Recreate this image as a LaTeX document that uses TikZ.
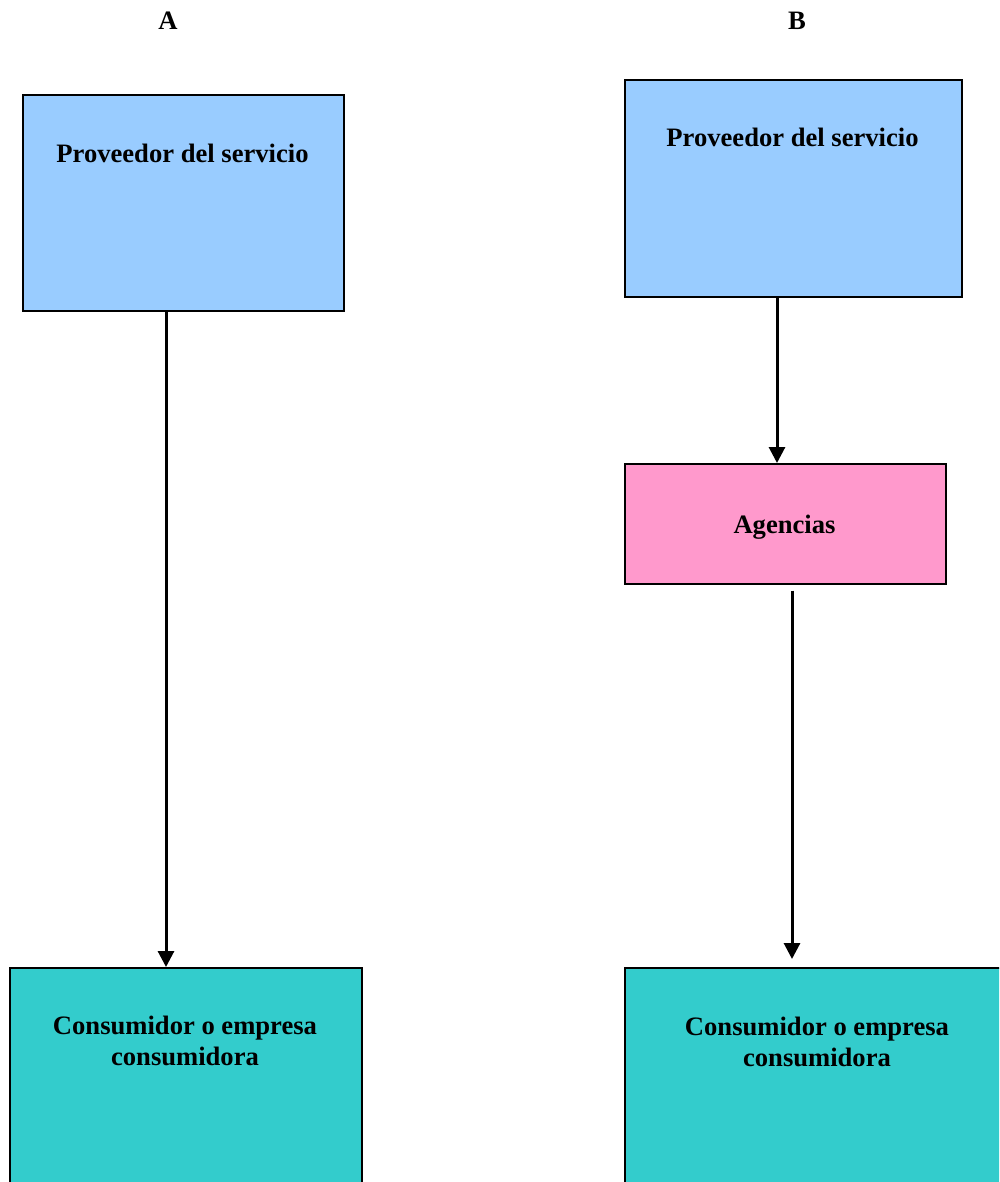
\documentclass[tikz,border=0pt]{standalone}
\usepackage{fontspec}
\setmainfont{Liberation Serif}
\usetikzlibrary{arrows.meta}
\definecolor{provblue}{HTML}{99CCFF}
\definecolor{consteal}{HTML}{33CCCC}
\definecolor{agpink}{HTML}{FF99CC}
\begin{document}
\begin{tikzpicture}[x=1pt,y=-1pt,
  box/.style={draw=black,line width=1.6pt,rectangle,inner sep=0pt,anchor=north west},
  lbl/.style={font=\fontsize{26.6}{31}\selectfont\bfseries,inner sep=0pt,align=center,anchor=base},
  arr/.style={line width=3pt,-{Triangle[length=16pt,width=16pt]}}]
\useasboundingbox (0,0) rectangle (999,1182);
\clip (0,0) rectangle (999,1182);
% headings
\node[font=\fontsize{26.6}{31}\selectfont\bfseries,inner sep=0pt,anchor=base] (hA) at (168,30) {A};
\node[font=\fontsize{26.6}{31}\selectfont\bfseries,inner sep=0pt,anchor=base] (hB) at (797,30) {B};
% boxes
\node[box,fill=provblue,minimum width=321pt,minimum height=216pt] (pA) at (22,94) {};
\node[box,fill=consteal,minimum width=352pt,minimum height=300pt] (cA) at (9,967) {};
\node[box,fill=provblue,minimum width=337pt,minimum height=217pt] (pB) at (624,79) {};
\node[box,fill=agpink,minimum width=321pt,minimum height=120pt] (ag) at (624,463) {};
\node[box,fill=consteal,minimum width=400pt,minimum height=300pt] (cB) at (624,967) {};
% texts
\node[lbl] (tpA) at (182.5,163) {Proveedor del servicio};
\node[lbl] (tpB) at (792.5,147) {Proveedor del servicio};
\node[lbl] (tag) at (784.5,533) {Agencias};
\node[lbl] (tcA) at (185,1065) {Consumidor o empresa\\consumidora};
\node[lbl] (tcB) at (817,1066) {Consumidor o empresa\\consumidora};
% arrow x positions
\coordinate (xA) at (166,0);
\coordinate (xB1) at (777,0);
\coordinate (xB2) at (792,0);
% connectors
\draw[arr] (pA.south -| xA) -- (cA.north -| xA);
\draw[arr] (pB.south -| xB1) -- (ag.north -| xB1);
\draw[arr,shorten <=6pt,shorten >=8pt] (ag.south -| xB2) -- (cB.north -| xB2);
\end{tikzpicture}
\end{document}
